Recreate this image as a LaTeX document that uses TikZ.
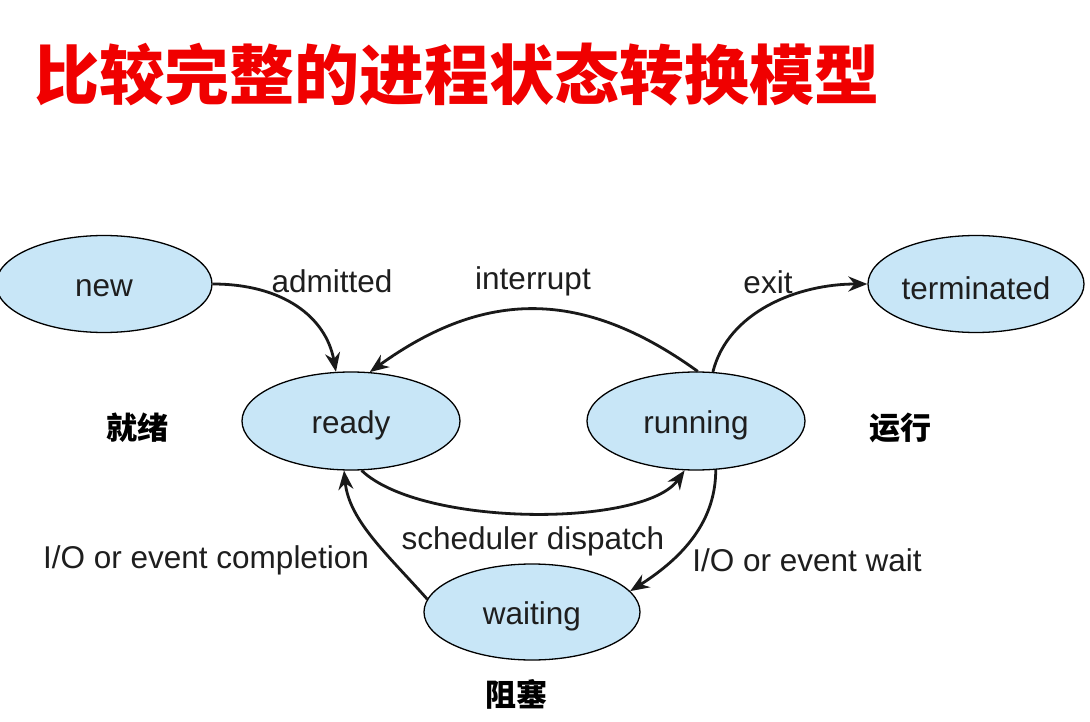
\documentclass[tikz,border=0pt]{standalone}
\usepackage{fontspec}
\setmainfont{Liberation Sans}
\newfontfamily\cjk{Noto Sans CJK SC}
\usetikzlibrary{shapes.geometric,arrows.meta}
\definecolor{stateblue}{RGB}{200,230,247}
\definecolor{labelgray}{RGB}{30,30,30}
\definecolor{titlered}{RGB}{240,0,0}
\newcommand{\stxt}[1]{\raisebox{-4pt}[\height][\depth]{#1}}
\tikzset{
  state/.style={ellipse, draw=black, line width=1.3pt, fill=stateblue, inner sep=0pt,
    minimum width=216pt, minimum height=97pt, text=labelgray, font=\fontsize{31.5}{33}\selectfont},
  lbl/.style={text=labelgray, font=\fontsize{31.5}{33}\selectfont, inner sep=0pt},
  cnlbl/.style={font=\cjk\bfseries\fontsize{31}{33}\selectfont, inner sep=0pt},
  trans/.style={line width=2.8pt, -{Stealth[length=19pt,width=15pt]}, draw=black!90}
}
\begin{document}
\begin{tikzpicture}[x=1pt,y=-1pt]
\useasboundingbox (0,0) rectangle (1090,722);
\fill[white] (0,0) rectangle (1090,722);
\node[anchor=west, text=titlered, font=\cjk\bfseries\fontsize{65}{70}\selectfont, inner sep=0pt] (title) at (34,75) {比较完整的进程状态转换模型};

\node[state] (new) at (104,284) {\stxt{new}};
\node[state, minimum width=218pt, minimum height=98pt] (ready) at (351,421) {\stxt{ready}};
\node[state, minimum width=218pt, minimum height=98pt] (running) at (696,421) {\stxt{running}};
\node[state] (terminated) at (976,284) {\stxt{terminated}};
\node[state, minimum height=96pt] (waiting) at (532,612) {\stxt{waiting}};

\node[lbl] (ladm) at (332,281) {admitted};
\node[lbl] (lint) at (533,281) {interrupt};
\node[lbl] (lexit) at (768,282) {exit};
\node[lbl] (lsched) at (533,541) {scheduler dispatch};
\node[lbl] (lcomp) at (206,560) {I/O or event completion};
\node[lbl] (lwait) at (807,560) {I/O or event wait};

\node[cnlbl] (jx) at (137,428) {就绪};
\node[cnlbl] (yx) at (900,428) {运行};
\node[cnlbl] (zs) at (516,694) {阻塞};

\draw[trans] (new.east) .. controls +(70,0) and +(-10,-55) .. (ready.107);
\draw[trans] (running.88) .. controls +(-115,-83) and +(115,-83) .. (ready.69);
\draw[trans] (running.71) .. controls +(15,-60) and +(-70,0) .. (terminated.west);
\draw[trans] (ready.-78) .. controls +(60,57) and +(-40,57) .. (running.-103);
\draw[trans] (waiting.173) .. controls +(-40,-45) and +(5,50) .. (ready.-98);
\draw[trans] (running.-68) .. controls +(0,50) and +(55,-35) .. (waiting.12);
\end{tikzpicture}
\end{document}
